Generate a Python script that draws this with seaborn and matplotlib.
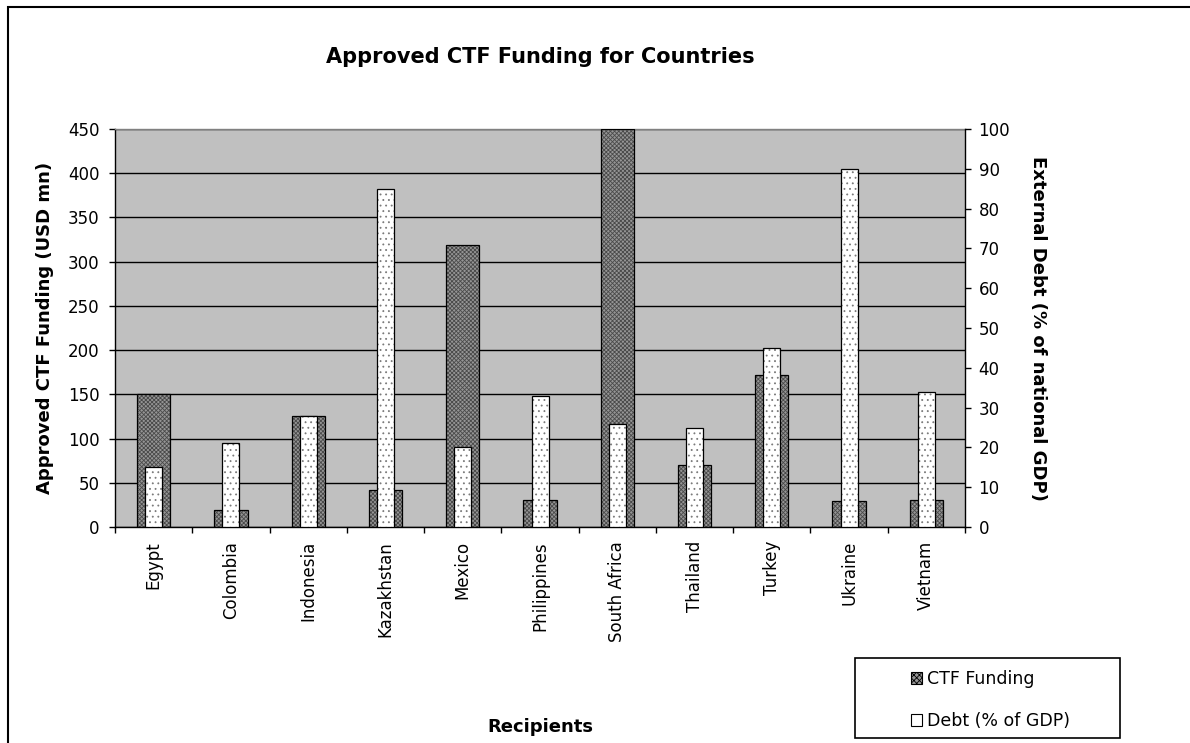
import numpy as np
import pandas as pd
import matplotlib
matplotlib.use("Agg")
import matplotlib.pyplot as plt
import seaborn as sns
from matplotlib.patches import Rectangle, Patch

# ---- data ----
countries = ["Egypt", "Colombia", "Indonesia", "Kazakhstan", "Mexico",
             "Philippines", "South Africa", "Thailand", "Turkey", "Ukraine", "Vietnam"]
ctf_funding = [150, 19, 125, 42, 319, 30, 450, 70, 172, 29, 30]
debt_pct_gdp = [15, 21, 28, 85, 20, 33, 26, 25, 45, 90, 34]
left_ticks = [0, 50, 100, 150, 200, 250, 300, 350, 400, 450]
right_ticks = [0, 10, 20, 30, 40, 50, 60, 70, 80, 90, 100]

title = "Approved CTF Funding for Countries"
ylabel_left = "Approved CTF Funding (USD mn)"
ylabel_right = "External Debt (% of national GDP)"
xlabel = "Recipients"
legend_labels = ["CTF Funding", "Debt (% of GDP)"]

df = pd.DataFrame({"Recipient": countries, "CTF": ctf_funding, "Debt": debt_pct_gdp})

sns.set_theme(style="white")
plt.rcParams['font.family'] = ['DejaVu Sans']
plt.rcParams['hatch.linewidth'] = 0.6
for k in ["text.color", "axes.labelcolor", "xtick.color", "ytick.color"]:
    plt.rcParams[k] = "black"

W, H = 1190, 743
fig = plt.figure(figsize=(W / 100, H / 100), dpi=100)
fig.patch.set_facecolor("white")

x0, x1, ytop, ybot = 115, 965, 129, 527
ax = fig.add_axes([x0 / W, 1 - ybot / H, (x1 - x0) / W, (ybot - ytop) / H])
ax.set_facecolor("#c0c0c0")

CTF_FACE = "#959595"
CTF_HATCH = "#4a4a4a"
DEBT_FACE = "white"
DEBT_HATCH = "#7a7a7a"

sns.barplot(data=df, x="Recipient", y="CTF", ax=ax, width=0.43,
            color=CTF_FACE, saturation=1, edgecolor=CTF_HATCH,
            linewidth=0, hatch="xxxxxxxx", zorder=2)
for p in list(ax.patches):
    ax.add_patch(Rectangle(p.get_xy(), p.get_width(), p.get_height(),
                           fill=False, edgecolor="black", linewidth=0.9, zorder=3))

ax2 = ax.twinx()
sns.barplot(data=df, x="Recipient", y="Debt", ax=ax2, width=0.22,
            color=DEBT_FACE, saturation=1, edgecolor=DEBT_HATCH,
            linewidth=0, hatch="...", zorder=2)
for p in list(ax2.patches):
    ax2.add_patch(Rectangle(p.get_xy(), p.get_width(), p.get_height(),
                            fill=False, edgecolor="black", linewidth=0.9, zorder=3))

# axes limits / ticks
ax.set_xlim(-0.5, len(countries) - 0.5)
ax.set_ylim(0, 450)
ax2.set_ylim(0, 100)
ax.set_yticks(left_ticks)
ax2.set_yticks(right_ticks)

ax.set_xticks(range(len(countries)))
ax.set_xticklabels(countries, rotation=90, fontsize=12, color="black")
ax.set_xticks(np.arange(-0.5, len(countries), 1), minor=True)
ax.tick_params(axis="x", which="major", length=0, pad=10)
ax.tick_params(axis="x", which="minor", bottom=True, length=4.3, width=1, color="black", direction="out")
ax.tick_params(axis="y", left=True, length=4.3, width=1, color="black", direction="out",
               labelsize=12, labelcolor="black", pad=7)
ax2.tick_params(axis="y", right=True, length=4.3, width=1, color="black", direction="out",
                labelsize=12, labelcolor="black", pad=5.5)

ax.set_xlabel("")
ax.set_ylabel("")
ax2.set_ylabel("")

ax.yaxis.grid(True, color="black", linewidth=1.0)
ax.xaxis.grid(False)
ax2.grid(False)
ax.set_axisbelow(True)

for s in ["left", "bottom"]:
    ax.spines[s].set_color("black")
    ax.spines[s].set_linewidth(1.0)
ax.spines["top"].set_color("#808080")
ax.spines["top"].set_linewidth(1.0)
ax.spines["right"].set_visible(False)
for s in ["left", "bottom", "top"]:
    ax2.spines[s].set_visible(False)
ax2.spines["right"].set_color("black")
ax2.spines["right"].set_linewidth(1.0)

# texts
fig.text(540 / W, 1 - 57 / H, title, ha="center", va="center", fontsize=15, fontweight="bold")
fig.text(45 / W, 1 - 328 / H, ylabel_left, ha="center", va="center", rotation=90,
         fontsize=13, fontweight="bold")
fig.text(1038 / W, 1 - 328 / H, ylabel_right, ha="center", va="center", rotation=270,
         fontsize=13, fontweight="bold")
fig.text(540 / W, 1 - 727 / H, xlabel, ha="center", va="center", fontsize=13, fontweight="bold")

# outer border
fig.add_artist(Rectangle((8 / W, -0.1), 1.2, 1 - 7 / H + 0.1, transform=fig.transFigure,
                         fill=False, edgecolor="black", linewidth=1.5))

# legend box + legend
fig.add_artist(Rectangle((855 / W, 1 - 738 / H), 265 / W, 80 / H, transform=fig.transFigure,
                         fill=False, edgecolor="black", linewidth=1.2))
handles = [Patch(facecolor=CTF_FACE, edgecolor="black", hatch="xxxxxx", linewidth=0.8),
           Patch(facecolor="white", edgecolor="black", hatch=".", linewidth=0.8)]
fig.legend(handles, legend_labels, loc="center left",
           bbox_to_anchor=(911 / W, 1 - 700 / H), frameon=False, fontsize=12.5,
           handlelength=0.65, handleheight=0.65, handletextpad=0.3, labelspacing=1.4,
           borderpad=0, borderaxespad=0)

fig.savefig("out.png", dpi=100)
